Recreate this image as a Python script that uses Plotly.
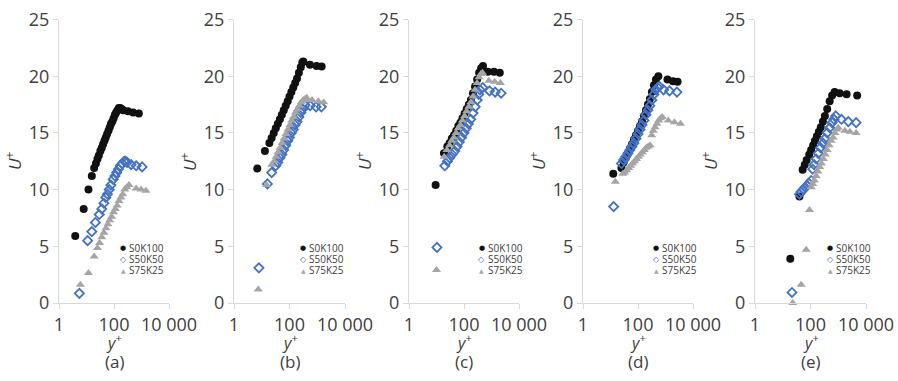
import plotly.graph_objects as go

# ---------------- data ----------------
panel_labels = ["(a)", "(b)", "(c)", "(d)", "(e)"]
series_names = ["S0K100", "S50K50", "S75K25"]
x_tickvals = [1, 100, 10000]
x_ticktext = ["1", "100", "10 000"]
y_tickvals = [0, 5, 10, 15, 20, 25]

# panel (a)
a_s0k100_y = [3.9, 7.9, 11.8, 15.6, 19, 22, 25, 28, 32, 36, 40, 45, 50, 56, 63, 70, 78, 87, 97, 108, 120, 134, 150, 168, 190, 215, 320, 490, 800]
a_s0k100_u = [5.9, 8.3, 10.0, 11.2, 11.9, 12.3, 12.7, 13.0, 13.4, 13.7, 14.0, 14.3, 14.6, 14.9, 15.2, 15.5, 15.8, 16.0, 16.3, 16.6, 16.8, 17.0, 17.2, 17.2, 17.1, 17.0, 16.9, 16.8, 16.7]
a_s50k50_y = [5.5, 11, 15.6, 21, 29, 36, 43, 50, 58, 67, 77, 93, 108, 125, 145, 170, 200, 235, 265, 300, 420, 640, 1050]
a_s50k50_u = [0.85, 5.5, 6.3, 7.1, 7.8, 8.3, 8.8, 9.3, 9.6, 10.0, 10.4, 10.9, 11.2, 11.5, 11.8, 12.1, 12.3, 12.5, 12.5, 12.4, 12.2, 12.1, 12.0]
a_s75k25_y = [6, 11.8, 19, 25, 30, 36, 43, 51, 60, 70, 82, 96, 112, 130, 152, 178, 208, 245, 290, 350, 640, 970, 1450]
a_s75k25_u = [1.6, 2.65, 4.1, 4.85, 5.3, 5.8, 6.2, 6.6, 6.95, 7.3, 7.6, 8.0, 8.3, 8.6, 9.0, 9.3, 9.6, 10.0, 10.2, 10.4, 10.1, 10.0, 9.9]

# panel (b)
b_s0k100_y = [6.9, 13, 18.8, 22.7, 27, 32, 38, 45, 53, 62, 73, 86, 100, 117, 137, 160, 187, 218, 255, 290, 315, 545, 950, 1440]
b_s0k100_u = [11.85, 13.4, 14.1, 14.55, 15.0, 15.4, 15.8, 16.2, 16.6, 17.0, 17.4, 17.8, 18.2, 18.6, 19.0, 19.4, 19.8, 20.3, 20.8, 21.2, 21.3, 21.0, 20.9, 20.85]
b_s50k50_y = [7.9, 16, 22.7, 32, 38, 45, 53, 62, 73, 86, 100, 117, 137, 160, 187, 218, 255, 300, 360, 560, 900, 1400]
b_s50k50_u = [3.1, 10.5, 11.5, 12.1, 12.4, 12.8, 13.1, 13.5, 13.9, 14.3, 14.6, 15.0, 15.3, 15.7, 16.0, 16.4, 16.8, 17.1, 17.45, 17.4, 17.3, 17.3]
b_s75k25_y = [7.5, 15, 23, 28, 33, 39, 46, 54, 64, 75, 88, 103, 120, 140, 165, 193, 225, 265, 310, 360, 415, 650, 1100, 1700]
b_s75k25_u = [1.2, 10.4, 12.2, 12.5, 12.9, 13.3, 13.7, 14.1, 14.5, 14.9, 15.3, 15.7, 16.1, 16.4, 16.8, 17.1, 17.4, 17.7, 17.9, 18.0, 18.1, 17.9, 17.8, 17.7]

# panel (c)
c_s0k100_y = [9.3, 18.7, 24.7, 30, 36, 43, 52, 62, 74, 88, 105, 125, 150, 178, 212, 252, 300, 355, 420, 490, 740, 1230, 2000]
c_s0k100_u = [10.4, 13.2, 13.8, 14.1, 14.5, 14.8, 15.2, 15.6, 15.9, 16.3, 16.7, 17.1, 17.5, 17.9, 18.5, 19.1, 19.7, 20.3, 20.7, 20.9, 20.4, 20.4, 20.3]
c_s50k50_y = [10.4, 20, 25, 30, 37, 46, 56, 68, 82, 100, 120, 145, 175, 213, 255, 300, 340, 380, 480, 850, 1350, 2240]
c_s50k50_u = [4.9, 12.1, 12.5, 12.8, 13.1, 13.4, 13.8, 14.2, 14.6, 15.0, 15.4, 15.8, 16.2, 16.75, 17.3, 17.9, 18.4, 18.8, 19.0, 18.7, 18.6, 18.5]
c_s75k25_y = [10, 19, 24, 30, 36, 43, 52, 62, 74, 88, 105, 125, 150, 178, 212, 252, 300, 355, 410, 470, 800, 1300, 2100]
c_s75k25_u = [2.9, 12.9, 13.5, 13.9, 14.3, 14.6, 15.0, 15.4, 15.7, 16.1, 16.5, 16.9, 17.3, 17.7, 18.2, 18.8, 19.4, 19.9, 20.2, 20.3, 19.6, 19.5, 19.4]

# panel (d)
d_s0k100_y = [12.6, 25, 30, 36, 43, 51, 60, 71, 84, 100, 118, 140, 165, 195, 230, 270, 320, 380, 450, 550, 1180, 1870, 2750]
d_s0k100_u = [11.4, 11.9, 12.4, 12.8, 13.2, 13.6, 14.0, 14.4, 14.8, 15.2, 15.6, 16.0, 16.5, 17.0, 17.5, 18.0, 18.6, 19.2, 19.7, 20.0, 19.7, 19.55, 19.5]
d_s50k50_y = [13, 25, 30, 36, 43, 51, 60, 71, 84, 100, 118, 140, 165, 195, 230, 270, 320, 380, 450, 520, 600, 850, 1400, 2600]
d_s50k50_u = [8.5, 12.3, 12.6, 12.9, 13.2, 13.5, 13.8, 14.1, 14.5, 14.9, 15.3, 15.7, 16.1, 16.6, 17.0, 17.4, 17.9, 18.4, 18.8, 19.0, 19.1, 18.8, 18.7, 18.6]
d_s75k25_y = [15, 28, 33, 39, 46, 54, 64, 75, 88, 104, 122, 144, 170, 200, 235, 275, 316, 360, 420, 490, 570, 660, 760, 1260, 2100, 3500]
d_s75k25_u = [10.7, 11.4, 11.5, 11.7, 11.9, 12.1, 12.3, 12.5, 12.7, 12.9, 13.1, 13.3, 13.5, 13.7, 13.8, 13.9, 14.8, 15.2, 15.5, 15.8, 16.1, 16.3, 16.4, 16.1, 15.95, 15.8]

# panel (e)
e_s0k100_y = [18.7, 40, 52, 62, 73, 90, 105, 125, 145, 170, 200, 235, 280, 330, 400, 490, 600, 740, 1120, 2000, 4800]
e_s0k100_u = [3.9, 9.4, 11.75, 12.2, 12.6, 13.1, 13.5, 13.9, 14.3, 14.7, 15.1, 15.5, 16.0, 16.5, 17.1, 17.8, 18.3, 18.6, 18.5, 18.4, 18.3]
e_s50k50_y = [21.5, 40, 46, 55, 64, 75, 88, 106, 120, 135, 160, 190, 230, 280, 330, 400, 490, 600, 700, 810, 1300, 2300, 4400]
e_s50k50_u = [0.93, 9.6, 9.8, 10.0, 10.2, 10.35, 10.55, 10.8, 11.8, 12.2, 12.7, 13.2, 13.7, 14.1, 14.5, 15.0, 15.45, 15.9, 16.2, 16.5, 16.2, 16.0, 15.9]
e_s75k25_y = [23, 46, 70, 92, 106, 120, 138, 160, 185, 215, 250, 290, 340, 400, 470, 550, 650, 760, 880, 1000, 1740, 2630, 4400]
e_s75k25_u = [0.0, 1.6, 4.7, 8.2, 10.2, 10.5, 10.8, 11.2, 11.6, 12.0, 12.3, 12.7, 13.1, 13.5, 13.9, 14.3, 14.6, 15.0, 15.3, 15.45, 15.2, 15.1, 15.0]

panels = [
    [(a_s0k100_y, a_s0k100_u), (a_s50k50_y, a_s50k50_u), (a_s75k25_y, a_s75k25_u)],
    [(b_s0k100_y, b_s0k100_u), (b_s50k50_y, b_s50k50_u), (b_s75k25_y, b_s75k25_u)],
    [(c_s0k100_y, c_s0k100_u), (c_s50k50_y, c_s50k50_u), (c_s75k25_y, c_s75k25_u)],
    [(d_s0k100_y, d_s0k100_u), (d_s50k50_y, d_s50k50_u), (d_s75k25_y, d_s75k25_u)],
    [(e_s0k100_y, e_s0k100_u), (e_s50k50_y, e_s50k50_u), (e_s75k25_y, e_s75k25_u)],
]

# ---------------- styling / layout ----------------
W, H = 898, 381
panel_px = [(59, 169), (234, 345), (409, 519), (583, 693), (755, 866)]  # window pixels
plot_top, plot_bottom = 19.5, 303
legend_sym_offset = [64, 69, 72.5, 73, 75]
legend_rows_px = [248, 259, 270]

FONT = "Open Sans, Segoe UI, DejaVu Sans, sans-serif"
TXT = "#404040"
AX = "#d9d9d9"

marker_styles = [
    dict(symbol="circle", size=8, color="#111111", line=dict(width=0)),
    dict(symbol="diamond-open", size=7, color="#4472c4", line=dict(width=1.8)),
    dict(symbol="triangle-up", size=8, color="#a5a5a5", line=dict(width=0)),
]
legend_glyphs = [("●", "#111111", 7), ("<b>◇</b>", "#4472c4", 8), ("▲", "#a5a5a5", 6)]


def fy(py):
    """window pixel row -> paper fraction"""
    return 1 - py / H


fig = go.Figure()
layout = dict(
    width=W, height=H,
    margin=dict(l=0, r=0, t=0, b=0, pad=0, autoexpand=False),
    paper_bgcolor="white", plot_bgcolor="white",
    showlegend=False,
    font=dict(family=FONT, color=TXT),
)
annotations = []

ydom = [fy(plot_bottom), fy(plot_top)]
for i, series in enumerate(panels):
    n = "" if i == 0 else str(i + 1)
    xa, ya = "x" + n, "y" + n
    for k, (xs, us) in enumerate(series):
        fig.add_trace(go.Scatter(
            x=xs, y=us, mode="markers", name=series_names[k],
            marker=marker_styles[k], xaxis=xa, yaxis=ya, cliponaxis=False,
        ))
    x0, x1 = panel_px[i]
    layout["xaxis" + n] = dict(
        type="log", range=[0, 4], domain=[x0 / W, x1 / W], anchor=ya,
        tickvals=x_tickvals, ticktext=x_ticktext, automargin=False,
        ticklabeloverflow="allow",
        showline=True, linecolor=AX, linewidth=1,
        ticks="outside", ticklen=5, tickcolor=AX,
        showgrid=False, zeroline=False,
        tickfont=dict(size=18, color=TXT, family=FONT),
    )
    layout["yaxis" + n] = dict(
        range=[0, 25], domain=ydom, anchor=xa, tickvals=y_tickvals, automargin=False,
        ticklabeloverflow="allow",
        showline=True, linecolor=AX, linewidth=1,
        ticks="outside", ticklen=5, tickcolor=AX,
        showgrid=False, zeroline=False,
        tickfont=dict(size=18, color=TXT, family=FONT),
    )
    dref = xa + " domain"
    # axis titles
    annotations.append(dict(text="<i>U</i><sup>+</sup>", xref=dref, x=0, xshift=-46,
                            xanchor="center", yanchor="middle",
                            yref="paper", y=fy(161), showarrow=False, textangle=-90,
                            font=dict(size=17, color=TXT, family=FONT)))
    annotations.append(dict(text="<i>y</i><sup>+</sup>", xref=dref, x=0.5,
                            xanchor="center", yanchor="middle",
                            yref="paper", y=fy(342), showarrow=False,
                            font=dict(size=16, color=TXT, family=FONT)))
    annotations.append(dict(text=panel_labels[i], xref=dref, x=0.5,
                            xanchor="center", yanchor="middle",
                            yref="paper", y=fy(361), showarrow=False,
                            font=dict(size=17, color=TXT, family=FONT)))
    # legend
    for k in range(3):
        g, col, sz = legend_glyphs[k]
        yy = fy(legend_rows_px[k])
        annotations.append(dict(text=g, xref=dref, x=0, xshift=legend_sym_offset[i],
                                xanchor="center", yanchor="middle", yref="paper", y=yy,
                                showarrow=False,
                                font=dict(size=sz, color=col, family="DejaVu Sans")))
        annotations.append(dict(text=series_names[k], xref=dref, x=0,
                                xshift=legend_sym_offset[i] + 4,
                                xanchor="left", yanchor="middle", yref="paper", y=yy,
                                showarrow=False,
                                font=dict(size=10, color=TXT, family=FONT)))

layout["annotations"] = annotations
fig.update_layout(**layout)
# remove the default 8px page margin so the figure starts at the window corner
fig.write_html("out.html", config={"displayModeBar": False},
               post_script="document.body.style.margin='0';")
